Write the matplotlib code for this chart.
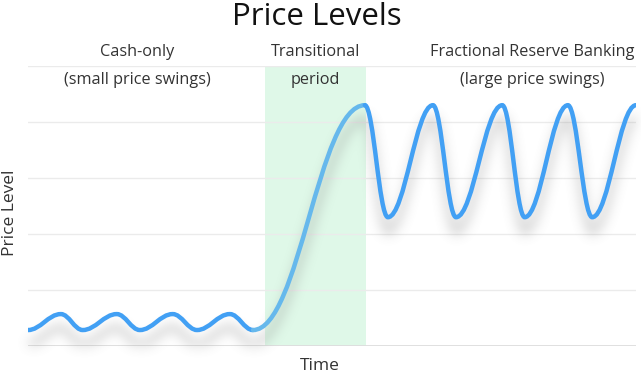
import matplotlib
matplotlib.use("Agg")
import matplotlib.pyplot as plt
import matplotlib.transforms as mtransforms
from matplotlib.path import Path
from matplotlib.patches import PathPatch
import numpy as np

plt.rcParams['font.family'] = ['Open Sans', 'DejaVu Sans']

# turning points of the price line (time 0..100, price 0..100)
cash_t = [0, 5.4, 9.0, 14.6, 18.4, 23.8, 27.8, 33.2, 37.0]
cash_v = [5.7, 11.4, 5.7, 11.4, 5.7, 11.4, 5.7, 11.4, 5.7]
trans_t = [37.0, 55.4]
trans_v = [5.7, 86.0]
frb_t = [55.4, 59.2, 66.6, 70.4, 78.0, 81.7, 88.8, 92.8, 100]
frb_v = [86.0, 46.0, 86.0, 46.0, 86.0, 46.0, 86.0, 46.0, 86.0]

band = (39.0, 55.6)
grid_levels = [20, 40, 60, 80, 100]

labels = [
    (18.0, 'Cash-only', '(small price swings)'),
    (47.3, 'Transitional', 'period'),
    (83.0, 'Fractional Reserve Banking', '(large price swings)'),
]

blue = '#42a0f4'
light_blue = '#66b8ec'
text_color = '#333333'


def wave_path(ts, vs, k=0.38):
    # smooth curve through turning points, flat at each turn
    verts = [(ts[0], vs[0])]
    codes = [Path.MOVETO]
    for i in range(len(ts) - 1):
        dx = ts[i + 1] - ts[i]
        verts += [(ts[i] + k * dx, vs[i]), (ts[i + 1] - k * dx, vs[i + 1]), (ts[i + 1], vs[i + 1])]
        codes += [Path.CURVE4] * 3
    return Path(verts, codes)


def smooth1d(x, n):
    w = np.exp(-0.5 * ((np.arange(2 * n + 1) - n) / (n / 2.5)) ** 2)
    return np.convolve(x, w / w.sum(), mode='same')


def shadow_filter(im, dpi):
    pad = 25
    a = np.pad(im[:, :, 3], pad)
    a = np.apply_along_axis(smooth1d, 0, a, 14)
    a = np.apply_along_axis(smooth1d, 1, a, 14)
    out = np.zeros(a.shape + (4,))
    out[:, :, :3] = 0.5
    out[:, :, 3] = a * 0.3
    return out, -pad, -pad


fig = plt.figure(figsize=(6.41, 3.74), dpi=100)
ax = fig.add_axes([28 / 641, 28 / 374, 608 / 641, 280 / 374])
ax.set_xlim(0, 100)
ax.set_ylim(0, 100)

ax.axvspan(band[0], band[1], color='#dff8e8', zorder=0, lw=0)
for g in grid_levels:
    ax.axhline(g, color='#ebebeb', lw=1, zorder=0.5)
ax.axhline(0, color='#dddddd', lw=2, zorder=0.6)

full_t = cash_t + trans_t[1:] + frb_t[1:]
full_v = cash_v + trans_v[1:] + frb_v[1:]
off = mtransforms.ScaledTranslation(0, -10 / 72, fig.dpi_scale_trans)
shadow = PathPatch(wave_path(full_t, full_v), fill=False, ec='black', lw=6,
                   transform=ax.transData + off, zorder=1)
shadow.set_agg_filter(shadow_filter)
ax.add_patch(shadow)

for ts, vs, c, k in [(cash_t, cash_v, blue, 0.38),
                     (trans_t, trans_v, light_blue, 0.42),
                     (frb_t, frb_v, blue, 0.38)]:
    ax.add_patch(PathPatch(wave_path(ts, vs, k), fill=False, ec=c, lw=3.2,
                           capstyle='round', zorder=2))

for x, l1, l2 in labels:
    ax.text(x, 105, l1, ha='center', va='center', fontsize=11.7, color=text_color, clip_on=False)
    ax.text(x, 95, l2, ha='center', va='center', fontsize=11.7, color=text_color)

fig.text(0.494, 0.955, 'Price Levels', ha='center', va='center', fontsize=22.5, color='#111111')
fig.text(10 / 641, 1 - 213 / 374, 'Price Level', rotation=90, ha='center', va='center',
         fontsize=12.5, color=text_color)
fig.text(320 / 641, 1 - 366 / 374, 'Time', ha='center', va='center', fontsize=12.5, color=text_color)

for s in ax.spines.values():
    s.set_visible(False)
ax.set_xticks([])
ax.set_yticks([])

fig.savefig('out.png', dpi=100)
